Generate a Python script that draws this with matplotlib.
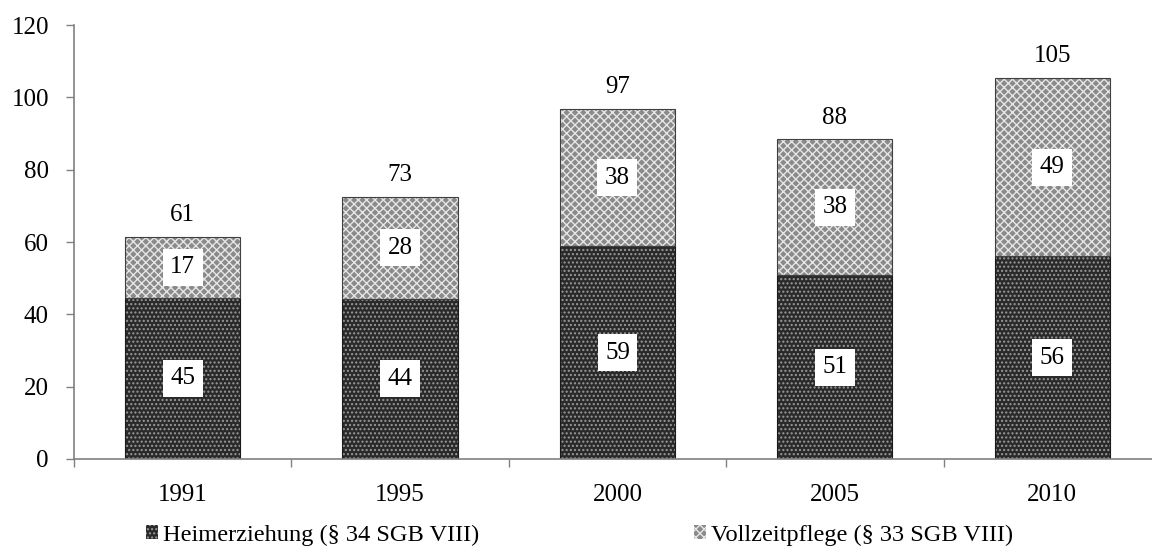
import matplotlib
matplotlib.use("Agg")
import matplotlib.pyplot as plt
import numpy as np

years = ["1991", "1995", "2000", "2005", "2010"]
heim = [44.6, 44.3, 58.9, 50.8, 56.1]
voll = [16.8, 28.3, 37.9, 37.6, 49.3]
series_names = ["Heimerziehung (§ 34 SGB VIII)", "Vollzeitpflege (§ 33 SGB VIII)"]
yticks = [0, 20, 40, 60, 80, 100, 120]

plt.rcParams['font.family'] = ['Liberation Serif', 'DejaVu Serif']
plt.rcParams['hatch.linewidth'] = 1.0

fig = plt.figure(figsize=(11.52, 5.47), dpi=100)
ax = fig.add_axes([0.0642, 0.1609, 0.9436, 0.7931])

x = np.arange(len(years))
w = 0.53
heim_arr = np.array(heim)
voll_arr = np.array(voll)
tot = heim_arr + voll_arr

b1 = ax.bar(x, heim_arr, w, color='#2a2a2a', edgecolor='#9a9a9a', hatch='....', linewidth=0, label=series_names[0])
b2 = ax.bar(x, voll_arr, w, bottom=heim_arr, color='#8a8a8a', edgecolor='#e6e6e6', hatch='xxxx', linewidth=0, label=series_names[1])
# outlines
ax.bar(x, heim_arr, w, fill=False, edgecolor='#1a1a1a', linewidth=0.8)
ax.bar(x, voll_arr, w, bottom=heim_arr, fill=False, edgecolor='#404040', linewidth=0.8)

fs = 18
for i in range(len(years)):
    ax.text(x[i], heim_arr[i] / 2, f"{round(heim_arr[i]):d}", ha='center', va='center', fontsize=fs,
            bbox=dict(boxstyle='square,pad=0.3', fc='white', ec='none'))
    ax.text(x[i], heim_arr[i] + voll_arr[i] / 2, f"{round(voll_arr[i]):d}", ha='center', va='center', fontsize=fs,
            bbox=dict(boxstyle='square,pad=0.3', fc='white', ec='none'))
    ax.text(x[i], tot[i] + 3.0, f"{round(tot[i]):d}", ha='center', va='bottom', fontsize=fs)

ax.set_xlim(-0.5, len(years) - 0.5)
ax.set_ylim(0, 120)
ax.set_yticks(yticks)
ax.set_yticklabels([str(t) for t in yticks], fontsize=fs)
ax.set_xticks(x)
ax.set_xticklabels(years, fontsize=fs)
ax.set_xticks(np.arange(len(years) + 1) - 0.5, minor=True)
ax.tick_params(axis='x', which='major', length=0, pad=18)
ax.tick_params(axis='x', which='minor', length=6, color='#808080', width=1)
ax.tick_params(axis='y', length=6, color='#808080', width=1, pad=12)

for s in ['top', 'right']:
    ax.spines[s].set_visible(False)
for s in ['left', 'bottom']:
    ax.spines[s].set_color('#808080')
    ax.spines[s].set_linewidth(1.2)

leg = fig.legend(handles=[b1, b2], labels=series_names, loc='center', bbox_to_anchor=(0.503, 0.022),
                 ncol=2, frameon=False, fontsize=17.6, handlelength=0.5, handleheight=0.5,
                 handletextpad=0.2, columnspacing=8.8, borderpad=0)

fig.savefig("out.png", dpi=100)
